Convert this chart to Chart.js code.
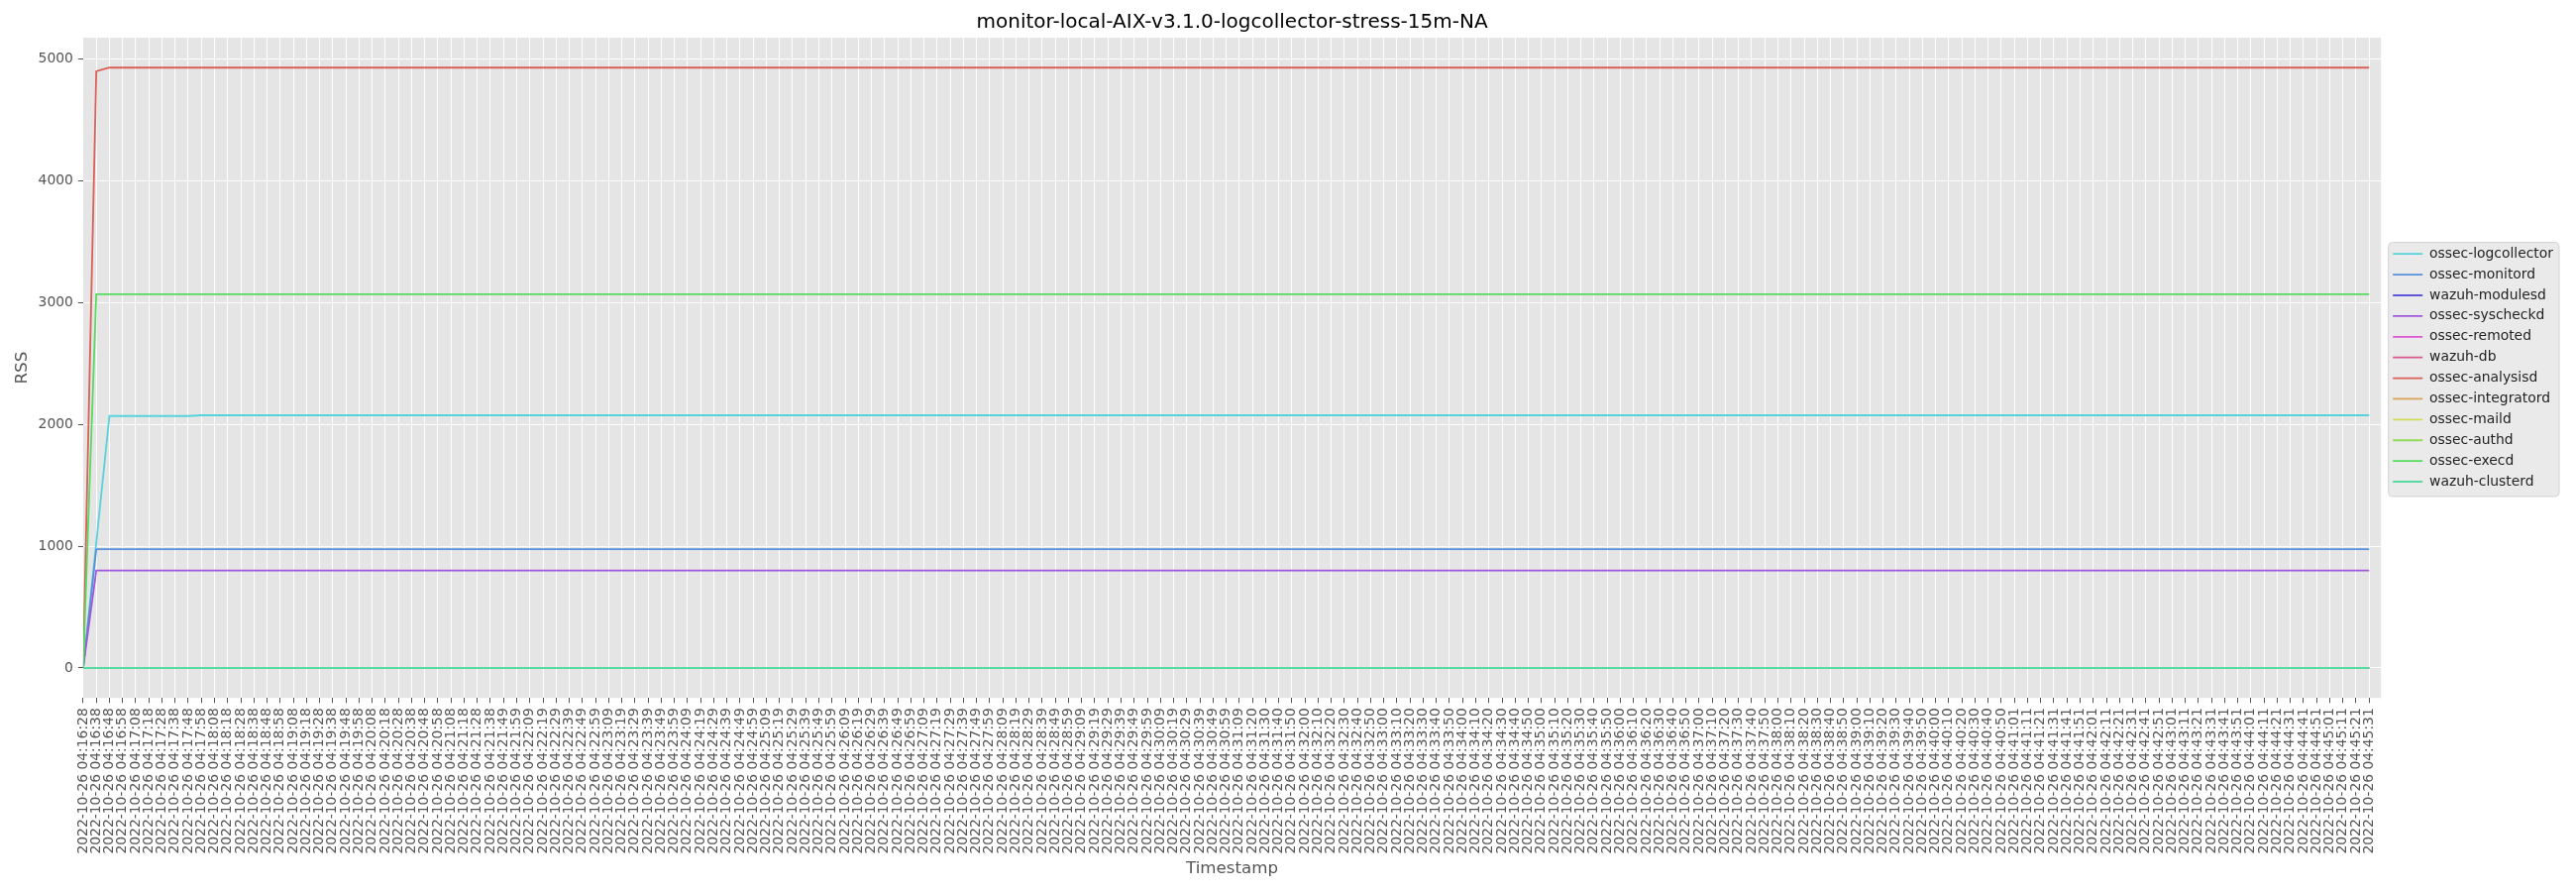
<!DOCTYPE html>
<html>
<head>
<meta charset="utf-8">
<script src="https://cdn.jsdelivr.net/npm/chart.js@4.4.1/dist/chart.umd.min.js"></script>
<style>
html,body{margin:0;padding:0;background:#ffffff;}
#wrap{width:2600px;height:900px;}
</style>
</head>
<body>
<div id="wrap"><canvas id="c" width="2600" height="900"></canvas></div>
<script>
const datePart = '2022-10-26';
const clockTimes = [
'04:16:28','04:16:38','04:16:48','04:16:58',
'04:17:08','04:17:18','04:17:28','04:17:38','04:17:48','04:17:58',
'04:18:08','04:18:18','04:18:28','04:18:38','04:18:48','04:18:58',
'04:19:08','04:19:18','04:19:28','04:19:38','04:19:48','04:19:58',
'04:20:08','04:20:18','04:20:28','04:20:38','04:20:48','04:20:58',
'04:21:08','04:21:18','04:21:28','04:21:38','04:21:49','04:21:59',
'04:22:09','04:22:19','04:22:29','04:22:39','04:22:49','04:22:59',
'04:23:09','04:23:19','04:23:29','04:23:39','04:23:49','04:23:59',
'04:24:09','04:24:19','04:24:29','04:24:39','04:24:49','04:24:59',
'04:25:09','04:25:19','04:25:29','04:25:39','04:25:49','04:25:59',
'04:26:09','04:26:19','04:26:29','04:26:39','04:26:49','04:26:59',
'04:27:09','04:27:19','04:27:29','04:27:39','04:27:49','04:27:59',
'04:28:09','04:28:19','04:28:29','04:28:39','04:28:49','04:28:59',
'04:29:09','04:29:19','04:29:29','04:29:39','04:29:49','04:29:59',
'04:30:09','04:30:19','04:30:29','04:30:39','04:30:49','04:30:59',
'04:31:09','04:31:20','04:31:30','04:31:40','04:31:50',
'04:32:00','04:32:10','04:32:20','04:32:30','04:32:40','04:32:50',
'04:33:00','04:33:10','04:33:20','04:33:30','04:33:40','04:33:50',
'04:34:00','04:34:10','04:34:20','04:34:30','04:34:40','04:34:50',
'04:35:00','04:35:10','04:35:20','04:35:30','04:35:40','04:35:50',
'04:36:00','04:36:10','04:36:20','04:36:30','04:36:40','04:36:50',
'04:37:00','04:37:10','04:37:20','04:37:30','04:37:40','04:37:50',
'04:38:00','04:38:10','04:38:20','04:38:30','04:38:40','04:38:50',
'04:39:00','04:39:10','04:39:20','04:39:30','04:39:40','04:39:50',
'04:40:00','04:40:10','04:40:20','04:40:30','04:40:40','04:40:50',
'04:41:01','04:41:11','04:41:21','04:41:31','04:41:41','04:41:51',
'04:42:01','04:42:11','04:42:21','04:42:31','04:42:41','04:42:51',
'04:43:01','04:43:11','04:43:21','04:43:31','04:43:41','04:43:51',
'04:44:01','04:44:11','04:44:21','04:44:31','04:44:41','04:44:51',
'04:45:01','04:45:11','04:45:21','04:45:31'
];
const timestamps = clockTimes.map(t => datePart + ' ' + t);

const yTickValues = [0, 1000, 2000, 3000, 4000, 5000];

const seriesNames = [
'ossec-logcollector','ossec-monitord','wazuh-modulesd','ossec-syscheckd',
'ossec-remoted','wazuh-db','ossec-analysisd','ossec-integratord',
'ossec-maild','ossec-authd','ossec-execd','wazuh-clusterd'
];

const logcollector = [
0,1030,2068,2068,2068, 2068,2068,2068,2068,2074, 2074,2074,2074,2074,2074, 2074,2074,2074,2074,2074, 2074,2074,2074,2074,2074,
2074,2074,2074,2074,2074, 2074,2074,2074,2074,2074, 2074,2074,2074,2074,2074, 2074,2074,2074,2074,2074, 2074,2074,2074,2074,2074,
2074,2074,2074,2074,2074, 2074,2074,2074,2074,2074, 2074,2074,2074,2074,2074, 2074,2074,2074,2074,2074, 2074,2074,2074,2074,2074,
2074,2074,2074,2074,2074, 2074,2074,2074,2074,2074, 2074,2074,2074,2074,2074, 2074,2074,2074,2074,2074, 2074,2074,2074,2074,2074,
2074,2074,2074,2074,2074, 2074,2074,2074,2074,2074, 2074,2074,2074,2074,2074, 2074,2074,2074,2074,2074, 2074,2074,2074,2074,2074,
2074,2074,2074,2074,2074, 2074,2074,2074,2074,2074, 2074,2074,2074,2074,2074, 2074,2074,2074,2074,2074, 2074,2074,2074,2074,2074,
2074,2074,2074,2074,2074, 2074,2074,2074,2074,2074, 2074,2074,2074,2074,2074, 2074,2074,2074,2074,2074, 2074,2074,2074,2074,2074
];
const monitord = [
0,975,975,975,975, 975,975,975,975,975, 975,975,975,975,975, 975,975,975,975,975, 975,975,975,975,975,
975,975,975,975,975, 975,975,975,975,975, 975,975,975,975,975, 975,975,975,975,975, 975,975,975,975,975,
975,975,975,975,975, 975,975,975,975,975, 975,975,975,975,975, 975,975,975,975,975, 975,975,975,975,975,
975,975,975,975,975, 975,975,975,975,975, 975,975,975,975,975, 975,975,975,975,975, 975,975,975,975,975,
975,975,975,975,975, 975,975,975,975,975, 975,975,975,975,975, 975,975,975,975,975, 975,975,975,975,975,
975,975,975,975,975, 975,975,975,975,975, 975,975,975,975,975, 975,975,975,975,975, 975,975,975,975,975,
975,975,975,975,975, 975,975,975,975,975, 975,975,975,975,975, 975,975,975,975,975, 975,975,975,975,975
];
const modulesd = [
0,0,0,0,0, 0,0,0,0,0, 0,0,0,0,0, 0,0,0,0,0, 0,0,0,0,0,
0,0,0,0,0, 0,0,0,0,0, 0,0,0,0,0, 0,0,0,0,0, 0,0,0,0,0,
0,0,0,0,0, 0,0,0,0,0, 0,0,0,0,0, 0,0,0,0,0, 0,0,0,0,0,
0,0,0,0,0, 0,0,0,0,0, 0,0,0,0,0, 0,0,0,0,0, 0,0,0,0,0,
0,0,0,0,0, 0,0,0,0,0, 0,0,0,0,0, 0,0,0,0,0, 0,0,0,0,0,
0,0,0,0,0, 0,0,0,0,0, 0,0,0,0,0, 0,0,0,0,0, 0,0,0,0,0,
0,0,0,0,0, 0,0,0,0,0, 0,0,0,0,0, 0,0,0,0,0, 0,0,0,0,0
];
const syscheckd = [
0,800,800,800,800, 800,800,800,800,800, 800,800,800,800,800, 800,800,800,800,800, 800,800,800,800,800,
800,800,800,800,800, 800,800,800,800,800, 800,800,800,800,800, 800,800,800,800,800, 800,800,800,800,800,
800,800,800,800,800, 800,800,800,800,800, 800,800,800,800,800, 800,800,800,800,800, 800,800,800,800,800,
800,800,800,800,800, 800,800,800,800,800, 800,800,800,800,800, 800,800,800,800,800, 800,800,800,800,800,
800,800,800,800,800, 800,800,800,800,800, 800,800,800,800,800, 800,800,800,800,800, 800,800,800,800,800,
800,800,800,800,800, 800,800,800,800,800, 800,800,800,800,800, 800,800,800,800,800, 800,800,800,800,800,
800,800,800,800,800, 800,800,800,800,800, 800,800,800,800,800, 800,800,800,800,800, 800,800,800,800,800
];
const remoted = [
0,0,0,0,0, 0,0,0,0,0, 0,0,0,0,0, 0,0,0,0,0, 0,0,0,0,0,
0,0,0,0,0, 0,0,0,0,0, 0,0,0,0,0, 0,0,0,0,0, 0,0,0,0,0,
0,0,0,0,0, 0,0,0,0,0, 0,0,0,0,0, 0,0,0,0,0, 0,0,0,0,0,
0,0,0,0,0, 0,0,0,0,0, 0,0,0,0,0, 0,0,0,0,0, 0,0,0,0,0,
0,0,0,0,0, 0,0,0,0,0, 0,0,0,0,0, 0,0,0,0,0, 0,0,0,0,0,
0,0,0,0,0, 0,0,0,0,0, 0,0,0,0,0, 0,0,0,0,0, 0,0,0,0,0,
0,0,0,0,0, 0,0,0,0,0, 0,0,0,0,0, 0,0,0,0,0, 0,0,0,0,0
];
const wazuhDb = [
0,0,0,0,0, 0,0,0,0,0, 0,0,0,0,0, 0,0,0,0,0, 0,0,0,0,0,
0,0,0,0,0, 0,0,0,0,0, 0,0,0,0,0, 0,0,0,0,0, 0,0,0,0,0,
0,0,0,0,0, 0,0,0,0,0, 0,0,0,0,0, 0,0,0,0,0, 0,0,0,0,0,
0,0,0,0,0, 0,0,0,0,0, 0,0,0,0,0, 0,0,0,0,0, 0,0,0,0,0,
0,0,0,0,0, 0,0,0,0,0, 0,0,0,0,0, 0,0,0,0,0, 0,0,0,0,0,
0,0,0,0,0, 0,0,0,0,0, 0,0,0,0,0, 0,0,0,0,0, 0,0,0,0,0,
0,0,0,0,0, 0,0,0,0,0, 0,0,0,0,0, 0,0,0,0,0, 0,0,0,0,0
];
const analysisd = [
0,4897,4927,4927,4927, 4927,4927,4927,4927,4927, 4927,4927,4927,4927,4927, 4927,4927,4927,4927,4927, 4927,4927,4927,4927,4927,
4927,4927,4927,4927,4927, 4927,4927,4927,4927,4927, 4927,4927,4927,4927,4927, 4927,4927,4927,4927,4927, 4927,4927,4927,4927,4927,
4927,4927,4927,4927,4927, 4927,4927,4927,4927,4927, 4927,4927,4927,4927,4927, 4927,4927,4927,4927,4927, 4927,4927,4927,4927,4927,
4927,4927,4927,4927,4927, 4927,4927,4927,4927,4927, 4927,4927,4927,4927,4927, 4927,4927,4927,4927,4927, 4927,4927,4927,4927,4927,
4927,4927,4927,4927,4927, 4927,4927,4927,4927,4927, 4927,4927,4927,4927,4927, 4927,4927,4927,4927,4927, 4927,4927,4927,4927,4927,
4927,4927,4927,4927,4927, 4927,4927,4927,4927,4927, 4927,4927,4927,4927,4927, 4927,4927,4927,4927,4927, 4927,4927,4927,4927,4927,
4927,4927,4927,4927,4927, 4927,4927,4927,4927,4927, 4927,4927,4927,4927,4927, 4927,4927,4927,4927,4927, 4927,4927,4927,4927,4927
];
const integratord = [
0,0,0,0,0, 0,0,0,0,0, 0,0,0,0,0, 0,0,0,0,0, 0,0,0,0,0,
0,0,0,0,0, 0,0,0,0,0, 0,0,0,0,0, 0,0,0,0,0, 0,0,0,0,0,
0,0,0,0,0, 0,0,0,0,0, 0,0,0,0,0, 0,0,0,0,0, 0,0,0,0,0,
0,0,0,0,0, 0,0,0,0,0, 0,0,0,0,0, 0,0,0,0,0, 0,0,0,0,0,
0,0,0,0,0, 0,0,0,0,0, 0,0,0,0,0, 0,0,0,0,0, 0,0,0,0,0,
0,0,0,0,0, 0,0,0,0,0, 0,0,0,0,0, 0,0,0,0,0, 0,0,0,0,0,
0,0,0,0,0, 0,0,0,0,0, 0,0,0,0,0, 0,0,0,0,0, 0,0,0,0,0
];
const maild = [
0,0,0,0,0, 0,0,0,0,0, 0,0,0,0,0, 0,0,0,0,0, 0,0,0,0,0,
0,0,0,0,0, 0,0,0,0,0, 0,0,0,0,0, 0,0,0,0,0, 0,0,0,0,0,
0,0,0,0,0, 0,0,0,0,0, 0,0,0,0,0, 0,0,0,0,0, 0,0,0,0,0,
0,0,0,0,0, 0,0,0,0,0, 0,0,0,0,0, 0,0,0,0,0, 0,0,0,0,0,
0,0,0,0,0, 0,0,0,0,0, 0,0,0,0,0, 0,0,0,0,0, 0,0,0,0,0,
0,0,0,0,0, 0,0,0,0,0, 0,0,0,0,0, 0,0,0,0,0, 0,0,0,0,0,
0,0,0,0,0, 0,0,0,0,0, 0,0,0,0,0, 0,0,0,0,0, 0,0,0,0,0
];
const authd = [
0,0,0,0,0, 0,0,0,0,0, 0,0,0,0,0, 0,0,0,0,0, 0,0,0,0,0,
0,0,0,0,0, 0,0,0,0,0, 0,0,0,0,0, 0,0,0,0,0, 0,0,0,0,0,
0,0,0,0,0, 0,0,0,0,0, 0,0,0,0,0, 0,0,0,0,0, 0,0,0,0,0,
0,0,0,0,0, 0,0,0,0,0, 0,0,0,0,0, 0,0,0,0,0, 0,0,0,0,0,
0,0,0,0,0, 0,0,0,0,0, 0,0,0,0,0, 0,0,0,0,0, 0,0,0,0,0,
0,0,0,0,0, 0,0,0,0,0, 0,0,0,0,0, 0,0,0,0,0, 0,0,0,0,0,
0,0,0,0,0, 0,0,0,0,0, 0,0,0,0,0, 0,0,0,0,0, 0,0,0,0,0
];
const execd = [
0,3068,3068,3068,3068, 3068,3068,3068,3068,3068, 3068,3068,3068,3068,3068, 3068,3068,3068,3068,3068, 3068,3068,3068,3068,3068,
3068,3068,3068,3068,3068, 3068,3068,3068,3068,3068, 3068,3068,3068,3068,3068, 3068,3068,3068,3068,3068, 3068,3068,3068,3068,3068,
3068,3068,3068,3068,3068, 3068,3068,3068,3068,3068, 3068,3068,3068,3068,3068, 3068,3068,3068,3068,3068, 3068,3068,3068,3068,3068,
3068,3068,3068,3068,3068, 3068,3068,3068,3068,3068, 3068,3068,3068,3068,3068, 3068,3068,3068,3068,3068, 3068,3068,3068,3068,3068,
3068,3068,3068,3068,3068, 3068,3068,3068,3068,3068, 3068,3068,3068,3068,3068, 3068,3068,3068,3068,3068, 3068,3068,3068,3068,3068,
3068,3068,3068,3068,3068, 3068,3068,3068,3068,3068, 3068,3068,3068,3068,3068, 3068,3068,3068,3068,3068, 3068,3068,3068,3068,3068,
3068,3068,3068,3068,3068, 3068,3068,3068,3068,3068, 3068,3068,3068,3068,3068, 3068,3068,3068,3068,3068, 3068,3068,3068,3068,3068
];
const clusterd = [
0,0,0,0,0, 0,0,0,0,0, 0,0,0,0,0, 0,0,0,0,0, 0,0,0,0,0,
0,0,0,0,0, 0,0,0,0,0, 0,0,0,0,0, 0,0,0,0,0, 0,0,0,0,0,
0,0,0,0,0, 0,0,0,0,0, 0,0,0,0,0, 0,0,0,0,0, 0,0,0,0,0,
0,0,0,0,0, 0,0,0,0,0, 0,0,0,0,0, 0,0,0,0,0, 0,0,0,0,0,
0,0,0,0,0, 0,0,0,0,0, 0,0,0,0,0, 0,0,0,0,0, 0,0,0,0,0,
0,0,0,0,0, 0,0,0,0,0, 0,0,0,0,0, 0,0,0,0,0, 0,0,0,0,0,
0,0,0,0,0, 0,0,0,0,0, 0,0,0,0,0, 0,0,0,0,0, 0,0,0,0,0
];

const seriesValues = [logcollector, monitord, modulesd, syscheckd, remoted, wazuhDb,
  analysisd, integratord, maild, authd, execd, clusterd];
const seriesColors = ['#57d3db','#5791db','#5f57db','#a157db','#db57d3','#db5791',
  '#db5f57','#dba157','#d3db57','#91db57','#57db5f','#57dba1'];

const FONT = 'DejaVu Sans';

const datasets = seriesNames.map((name, i) => ({
  label: name,
  data: seriesValues[i].map((v, k) => ({x: k, y: v})),
  borderColor: seriesColors[i],
  backgroundColor: seriesColors[i],
  borderWidth: 1.8,
  pointRadius: 0,
  pointHoverRadius: 0,
  tension: 0,
  fill: false,
  order: seriesNames.length - 1 - i
}));

const ggBackground = {
  id: 'ggBackground',
  afterLayout(chart) {
    if (chart.legend) { chart.legend.left += 5; chart.legend.right += 5; }
  },
  beforeDraw(chart) {
    const {ctx, chartArea} = chart;
    ctx.save();
    ctx.fillStyle = '#e5e5e5';
    ctx.fillRect(chartArea.left, chartArea.top, chartArea.right - chartArea.left, chartArea.bottom - chartArea.top);
    const hb = chart.legend && chart.legend.legendHitBoxes;
    if (hb && hb.length) {
      let l = Infinity, r = -Infinity;
      hb.forEach(h => { l = Math.min(l, h.left); r = Math.max(r, h.left + h.width); });
      const x0 = l - 4.5, x1 = r + 6;
      const y0 = hb[0].top - 4.7, y1 = hb[hb.length - 1].top + hb[hb.length - 1].height + 8;
      const rad = 4;
      ctx.beginPath();
      ctx.moveTo(x0 + rad, y0);
      ctx.lineTo(x1 - rad, y0); ctx.arcTo(x1, y0, x1, y0 + rad, rad);
      ctx.lineTo(x1, y1 - rad); ctx.arcTo(x1, y1, x1 - rad, y1, rad);
      ctx.lineTo(x0 + rad, y1); ctx.arcTo(x0, y1, x0, y1 - rad, rad);
      ctx.lineTo(x0, y0 + rad); ctx.arcTo(x0, y0, x0 + rad, y0, rad);
      ctx.closePath();
      ctx.fillStyle = '#eaeaea';
      ctx.fill();
      ctx.lineWidth = 1;
      ctx.strokeStyle = '#d4d4d4';
      ctx.stroke();
    }
    ctx.restore();
  }
};

new Chart(document.getElementById('c'), {
  type: 'line',
  data: { datasets },
  options: {
    responsive: false,
    animation: false,
    devicePixelRatio: 1,
    layout: { padding: { left: 8.6, right: 18, top: 0, bottom: 9.4 } },
    plugins: {
      title: {
        display: true,
        text: 'monitor-local-AIX-v3.1.0-logcollector-stress-15m-NA',
        fullSize: false,
        color: '#000000',
        font: { family: FONT, size: 20, weight: 'normal' },
        padding: { top: 11, bottom: 3 }
      },
      legend: {
        position: 'right',
        fullSize: false,
        labels: {
          usePointStyle: true,
          pointStyle: 'line',
          pointStyleWidth: 30,
          padding: 7,
          color: '#222222',
          font: { family: FONT, size: 13.89 },
          sort: (a, b) => a.datasetIndex - b.datasetIndex
        }
      },
      tooltip: { enabled: false }
    },
    scales: {
      x: {
        type: 'linear',
        min: 0,
        max: 174.9,
        afterBuildTicks: axis => { axis.ticks = timestamps.map((_, i) => ({ value: i })); },
        ticks: {
          autoSkip: false,
          maxRotation: 90,
          minRotation: 90,
          padding: 5,
          color: '#555555',
          font: { family: FONT, size: 13.89 },
          callback: v => timestamps[v]
        },
        grid: { color: '#ffffff', lineWidth: 1, tickColor: '#555555', tickLength: 5, tickWidth: 1 },
        border: { display: false },
        title: {
          display: true, text: 'Timestamp', color: '#555555',
          font: { family: FONT, size: 16.67 }, padding: { top: 0, bottom: 4 }
        }
      },
      y: {
        min: -246,
        max: 5173,
        afterBuildTicks: axis => { axis.ticks = yTickValues.map(v => ({ value: v })); },
        ticks: {
          padding: 5,
          color: '#555555',
          font: { family: FONT, size: 13.89 },
          callback: v => String(v)
        },
        grid: { color: '#ffffff', lineWidth: 1, tickColor: '#555555', tickLength: 5, tickWidth: 1 },
        border: { display: false },
        title: {
          display: true, text: 'RSS', color: '#555555',
          font: { family: FONT, size: 16.67 }, padding: { top: 4, bottom: 1 }
        }
      }
    }
  },
  plugins: [ggBackground]
});
</script>
</body>
</html>
